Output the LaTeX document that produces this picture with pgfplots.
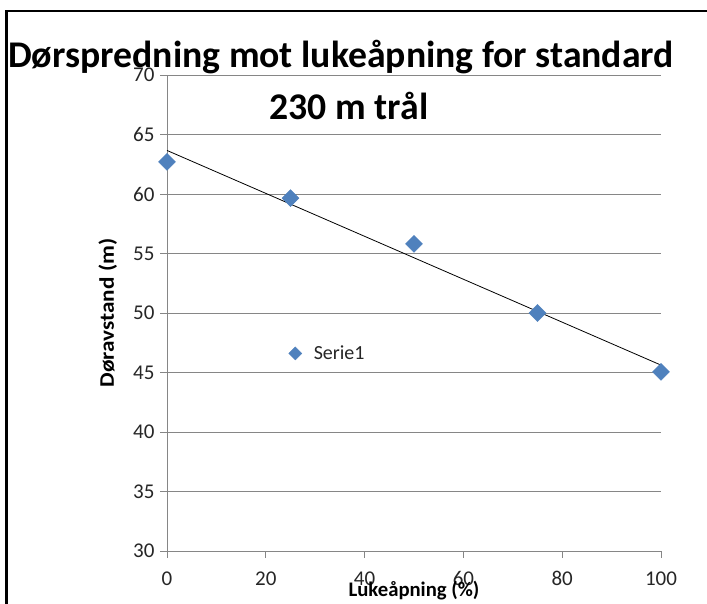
\documentclass[border=0pt]{standalone}
\usepackage{fontspec}
\setmainfont{Carlito}
\usepackage{pgfplots}
\pgfplotsset{compat=1.18}
\definecolor{serblue}{HTML}{4F81BD}
\definecolor{gridgray}{HTML}{868686}
\begin{document}
\begin{tikzpicture}[x=1pt,y=1pt]
\useasboundingbox (0pt,0pt) rectangle (707pt,604pt);
\fill[white] (0pt,0pt) rectangle (707pt,604pt);
\draw[line width=2.2pt,black] (6.5pt,0pt) -- (6.5pt,593pt) -- (707pt,593pt);
\begin{axis}[
  at={(167pt,53pt)}, anchor=south west,
  scale only axis, width=494pt, height=476pt,
  xmin=0, xmax=100, ymin=30, ymax=70,
  xtick={0,20,40,60,80,100}, ytick={30,35,...,70},
  axis x line*=bottom, axis y line*=left,
  axis line style={gridgray, line width=0.8pt, -},
  ymajorgrids, grid style={gridgray, line width=0.8pt},
  tick align=outside, major tick length=7pt,
  tick style={gridgray, line width=0.8pt},
  /pgf/number format/assume math mode=true,
  ticklabel style={font=\fontsize{21}{23}\selectfont, text=black!85},
  yticklabel style={xshift=-2pt},
  xticklabel style={yshift=-10pt},
  xlabel={\textbf{Lukeåpning (\%)}},
  ylabel={\scalebox{1.12}[1]{\textbf{Døravstand (m)}}},
  label style={font=\fontsize{20.7}{23}\selectfont},
  xlabel style={at={(axis description cs:0.5,0)}, anchor=center, yshift=-40pt},
  ylabel style={at={(axis description cs:-0.12,0.5)}, anchor=center},
  legend style={at={(axis cs:24,46.6)}, anchor=west, draw=none, fill=none,
    font=\fontsize{20}{22}\selectfont, text=black!85},
  legend image post style={mark size=4.6pt},
  legend cell align=left,
  clip=false,
]
\addplot[black, line width=0.8pt, forget plot] coordinates {(0,63.66) (100,45.62)};
\addplot[only marks, mark=square*, mark size=6pt, mark options={rotate=45, fill=serblue, draw=serblue}] coordinates {
  (0,62.7) (25,59.66) (50,55.8) (75,50.0) (100,45.05)
};
\legend{\hspace{10pt}Serie1}
\end{axis}
\node[font=\bfseries\fontsize{37.7}{40}\selectfont, anchor=base] at (341pt,536pt) {Dørspredning mot lukeåpning for standard};
\node[font=\bfseries\fontsize{37.7}{40}\selectfont, anchor=base] at (349pt,484pt) {230 m trål};
\end{tikzpicture}
\end{document}
